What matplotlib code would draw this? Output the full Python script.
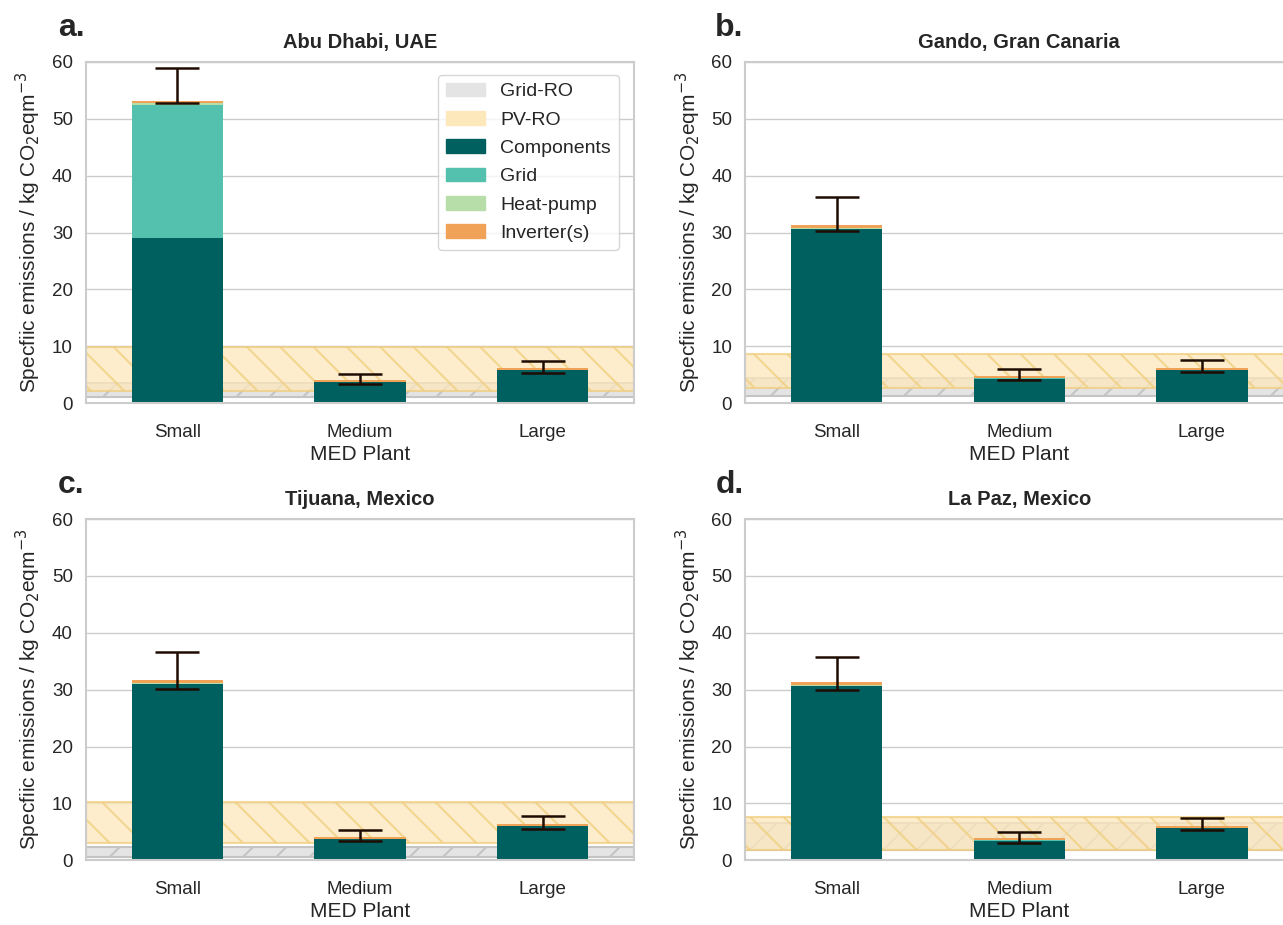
import numpy as np
import matplotlib
matplotlib.use("Agg")
import matplotlib.pyplot as plt
import seaborn as sns
from matplotlib.patches import Patch

sns.set_theme(style="whitegrid")
plt.rcParams['font.family'] = ['Arial', 'Liberation Sans', 'DejaVu Sans']
plt.rcParams['hatch.linewidth'] = 1.5

plants = ["Small", "Medium", "Large"]
sites = ["Abu Dhabi, UAE", "Gando, Gran Canaria", "Tijuana, Mexico", "La Paz, Mexico"]
letters = ["a.", "b.", "c.", "d."]

# stacked contributions per site (Small, Medium, Large)
components = [[29.0, 3.7, 5.8], [30.6, 4.3, 5.9], [31.0, 3.8, 6.0], [30.6, 3.4, 5.6]]
grid = [[23.5, 0.0, 0.0], [0.1, 0.1, 0.0], [0.0, 0.0, 0.0], [0.1, 0.1, 0.0]]
heatpump = [[0.2, 0.0, 0.0], [0.1, 0.0, 0.0], [0.1, 0.0, 0.0], [0.1, 0.0, 0.0]]
inverter = [[0.5, 0.3, 0.3], [0.6, 0.4, 0.3], [0.6, 0.3, 0.3], [0.5, 0.4, 0.4]]

# error bar ends (low, high)
err_low = [[52.8, 3.3, 5.35], [30.2, 4.05, 5.55], [30.2, 3.35, 5.5], [30.0, 3.1, 5.3]]
err_high = [[58.9, 5.05, 7.4], [36.2, 6.05, 7.65], [36.6, 5.3, 7.8], [35.8, 4.9, 7.5]]

# reference bands (low, high)
grid_ro = [(1.1, 3.5), (1.2, 4.4), (0.6, 2.3), (1.8, 6.6)]
pv_ro = [(2.1, 9.9), (2.6, 8.6), (3.0, 10.2), (1.8, 7.6)]

c_comp = "#00605f"
c_grid = "#53c1ad"
c_hp = "#b7dea9"
c_inv = "#f0a256"
c_gridro = "#e4e4e4"
c_pvro = "#fde8bb"

fig, axes = plt.subplots(2, 2, figsize=(12.83, 9.25), dpi=100)
fig.subplots_adjust(left=0.067, right=1.008, top=0.933, bottom=0.07, wspace=0.203, hspace=0.34)

x = np.arange(len(plants))
w = 0.5
for i, ax in enumerate(axes.flat):
    ax.axhspan(*grid_ro[i], facecolor=c_gridro, edgecolor="#c4c4c4", hatch="/", lw=1.5, zorder=0.5)
    ax.axhspan(*pv_ro[i], facecolor=c_pvro, edgecolor="#f0cd7c", hatch="\\", lw=1.5, alpha=0.75, zorder=0.6)

    comp = np.array(components[i])
    gr = np.array(grid[i])
    hp = np.array(heatpump[i])
    inv = np.array(inverter[i])
    ax.bar(x, comp, w, color=c_comp, lw=0, zorder=2)
    ax.bar(x, gr, w, bottom=comp, color=c_grid, lw=0, zorder=2)
    ax.bar(x, hp, w, bottom=comp + gr, color=c_hp, lw=0, zorder=2)
    ax.bar(x, inv, w, bottom=comp + gr + hp, color=c_inv, lw=0, zorder=2)

    lo = np.array(err_low[i])
    hi = np.array(err_high[i])
    mid = (lo + hi) / 2
    ax.errorbar(x, mid, yerr=(hi - lo) / 2, fmt="none", ecolor="#1e0c02",
                elinewidth=1.8, capsize=16, capthick=1.8, zorder=3)

    ax.set_xlim(-0.5, 2.5)
    ax.set_ylim(0, 60)
    ax.set_yticks(range(0, 61, 10))
    ax.set_xticks(x)
    ax.set_xticklabels(plants)
    ax.tick_params(labelsize=13.5)
    ax.tick_params(axis="x", pad=9)
    ax.set_xlabel("MED Plant", fontsize=15, labelpad=3)
    ax.set_ylabel("Specfiic emissions / kg CO$_2$eqm$^{-3}$", fontsize=15, labelpad=6)
    ax.set_title(sites[i], fontsize=14.5, fontweight="bold", pad=10)
    ax.xaxis.grid(False)
    ax.set_axisbelow(True)
    for s in ax.spines.values():
        s.set_color("#cccccc")
        s.set_linewidth(1.5)
    ax.text(-0.003, 1.1, letters[i], transform=ax.transAxes, fontsize=23,
            fontweight="bold", ha="right", va="center")

handles = [Patch(color=c_gridro, label="Grid-RO"),
           Patch(color=c_pvro, label="PV-RO"),
           Patch(color=c_comp, label="Components"),
           Patch(color=c_grid, label="Grid"),
           Patch(color=c_hp, label="Heat-pump"),
           Patch(color=c_inv, label="Inverter(s)")]
axes[0, 0].legend(handles=handles, loc="upper right", fontsize=14, frameon=True,
                  bbox_to_anchor=(0.99, 0.99), labelspacing=0.55)

fig.savefig("out.png", dpi=100)
